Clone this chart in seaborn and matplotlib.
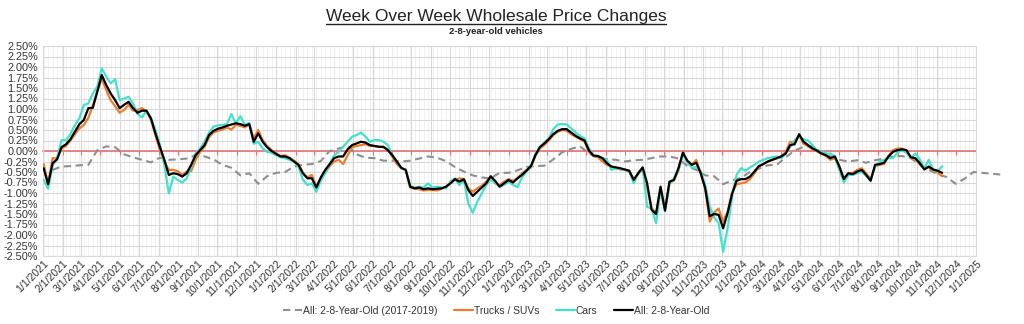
import numpy as np
import pandas as pd
import matplotlib
matplotlib.use("Agg")
import matplotlib.pyplot as plt
import matplotlib.dates as mdates
from matplotlib.lines import Line2D
from matplotlib.ticker import MultipleLocator, FuncFormatter
import seaborn as sns

# ---------------- data ----------------
title_text = "Week Over Week Wholesale Price Changes"
subtitle_text = "2-8-year-old vehicles"
legend_labels = ["All: 2-8-Year-Old (2017-2019)", "Trucks / SUVs", "Cars", "All: 2-8-Year-Old"]

weekly_start = "2021-01-02"      # first weekly observation
baseline_start = "2021-01-16"    # first point of the 2017-2019 baseline (bi-weekly)

all_vals = [
    -0.41, -0.79, -0.29, -0.20, 0.09, 0.16, 0.28, 0.46, 0.64, 0.74,
    1.02, 1.03, 1.41, 1.81, 1.57, 1.37, 1.21, 1.02, 1.10, 1.17,
    1.02, 0.91, 0.96, 0.96, 0.78, 0.42, 0.10, -0.21, -0.57, -0.53,
    -0.55, -0.61, -0.53, -0.33, -0.10, 0.02, 0.14, 0.38, 0.48, 0.53,
    0.56, 0.60, 0.63, 0.66, 0.64, 0.60, 0.64, 0.22, 0.42, 0.22,
    0.09, 0.00, -0.07, -0.13, -0.13, -0.17, -0.25, -0.33, -0.53, -0.65,
    -0.65, -0.87, -0.63, -0.45, -0.31, -0.17, -0.13, -0.13, 0.04, 0.14,
    0.18, 0.22, 0.20, 0.14, 0.12, 0.10, 0.10, 0.02, -0.10, -0.25,
    -0.40, -0.45, -0.85, -0.89, -0.87, -0.91, -0.89, -0.91, -0.90, -0.89,
    -0.85, -0.77, -0.67, -0.73, -0.67, -0.93, -1.07, -0.97, -0.87, -0.77,
    -0.60, -0.71, -0.85, -0.77, -0.69, -0.75, -0.65, -0.57, -0.47, -0.36,
    -0.10, 0.09, 0.18, 0.28, 0.40, 0.48, 0.52, 0.52, 0.44, 0.36,
    0.30, 0.25, 0.01, -0.11, -0.12, -0.17, -0.29, -0.37, -0.39, -0.41,
    -0.44, -0.47, -0.69, -0.53, -0.39, -0.77, -1.40, -1.50, -0.85, -1.42,
    -0.73, -0.69, -0.41, -0.04, -0.23, -0.33, -0.28, -0.53, -0.89, -1.55,
    -1.50, -1.52, -1.84, -1.48, -1.02, -0.71, -0.67, -0.67, -0.61, -0.49,
    -0.36, -0.31, -0.25, -0.21, -0.17, -0.13, -0.06, 0.14, 0.16, 0.40,
    0.22, 0.14, 0.06, 0.01, -0.06, -0.10, -0.17, -0.13, -0.37, -0.67,
    -0.53, -0.55, -0.49, -0.45, -0.57, -0.71, -0.33, -0.31, -0.28, -0.13,
    -0.02, 0.02, 0.04, 0.02, -0.15, -0.17, -0.29, -0.44, -0.37, -0.44,
    -0.47, -0.52,
]

trucks_vals = [
    -0.31, -0.80, -0.17, -0.18, 0.06, 0.12, 0.25, 0.40, 0.54, 0.62,
    0.79, 1.08, 1.43, 1.73, 1.45, 1.21, 1.06, 0.91, 0.98, 1.10,
    0.96, 0.98, 1.02, 0.94, 0.74, 0.38, 0.02, -0.25, -0.45, -0.45,
    -0.48, -0.57, -0.49, -0.48, -0.21, -0.02, 0.10, 0.33, 0.44, 0.48,
    0.51, 0.56, 0.51, 0.62, 0.60, 0.56, 0.64, 0.30, 0.50, 0.26,
    0.12, 0.02, -0.06, -0.12, -0.10, -0.16, -0.23, -0.31, -0.52, -0.63,
    -0.57, -0.85, -0.65, -0.52, -0.36, -0.25, -0.21, -0.31, -0.10, 0.09,
    0.12, 0.14, 0.16, 0.12, 0.12, 0.10, 0.09, 0.04, -0.14, -0.31,
    -0.41, -0.45, -0.87, -0.90, -0.91, -0.94, -0.93, -0.93, -0.94, -0.90,
    -0.85, -0.76, -0.69, -0.65, -0.67, -0.89, -0.97, -0.89, -0.83, -0.73,
    -0.63, -0.77, -0.81, -0.73, -0.67, -0.71, -0.65, -0.53, -0.45, -0.39,
    -0.12, 0.06, 0.14, 0.25, 0.38, 0.46, 0.50, 0.48, 0.40, 0.34,
    0.28, 0.22, -0.02, -0.12, -0.15, -0.25, -0.33, -0.37, -0.41, -0.44,
    -0.45, -0.49, -0.67, -0.55, -0.41, -0.85, -1.36, -1.48, -0.87, -1.38,
    -0.77, -0.69, -0.47, -0.06, -0.25, -0.33, -0.21, -0.53, -0.89, -1.68,
    -1.46, -1.37, -1.68, -1.45, -1.00, -0.79, -0.77, -0.75, -0.67, -0.53,
    -0.37, -0.31, -0.25, -0.21, -0.17, -0.13, -0.02, 0.22, 0.20, 0.38,
    0.17, 0.12, 0.04, -0.01, -0.06, -0.12, -0.21, -0.17, -0.36, -0.65,
    -0.53, -0.52, -0.45, -0.41, -0.53, -0.67, -0.36, -0.33, -0.31, -0.12,
    0.02, 0.06, 0.06, 0.01, -0.17, -0.21, -0.31, -0.41, -0.39, -0.47,
    -0.52, -0.60,
]

cars_vals = [
    -0.69, -0.90, -0.35, -0.17, 0.26, 0.26, 0.40, 0.62, 0.78, 1.10,
    1.13, 1.37, 1.53, 1.97, 1.77, 1.61, 1.71, 1.21, 1.25, 1.29,
    1.13, 0.88, 0.80, 0.96, 0.78, 0.50, 0.14, -0.33, -1.01, -0.61,
    -0.69, -0.75, -0.65, -0.37, -0.06, 0.06, 0.22, 0.44, 0.58, 0.61,
    0.62, 0.64, 0.88, 0.65, 0.83, 0.62, 0.67, 0.17, 0.22, 0.06,
    -0.02, -0.04, -0.10, -0.15, -0.17, -0.21, -0.25, -0.37, -0.69, -0.81,
    -0.77, -0.97, -0.71, -0.52, -0.31, -0.10, -0.02, 0.10, 0.22, 0.34,
    0.38, 0.44, 0.34, 0.22, 0.26, 0.26, 0.22, 0.14, -0.10, -0.25,
    -0.41, -0.45, -0.83, -0.87, -0.85, -0.87, -0.77, -0.87, -0.85, -0.87,
    -0.89, -0.73, -0.65, -0.81, -0.69, -1.25, -1.47, -1.21, -1.01, -0.81,
    -0.69, -0.75, -0.85, -0.81, -0.73, -0.81, -0.86, -0.63, -0.49, -0.39,
    -0.07, 0.09, 0.20, 0.30, 0.52, 0.63, 0.64, 0.63, 0.54, 0.44,
    0.36, 0.30, 0.06, -0.10, -0.12, -0.17, -0.21, -0.45, -0.41, -0.43,
    -0.45, -0.47, -0.77, -0.52, -0.41, -1.33, -1.37, -1.72, -0.93, -1.42,
    -0.79, -0.65, -0.45, -0.06, -0.29, -0.39, -0.39, -0.49, -0.81, -1.33,
    -1.58, -1.72, -2.40, -1.84, -1.09, -0.57, -0.41, -0.47, -0.39, -0.33,
    -0.25, -0.21, -0.17, -0.15, -0.13, -0.17, -0.06, 0.10, 0.26, 0.34,
    0.28, 0.25, 0.14, 0.01, -0.02, -0.06, -0.06, -0.13, -0.45, -0.75,
    -0.57, -0.57, -0.53, -0.49, -0.60, -0.67, -0.37, -0.25, -0.21, -0.17,
    -0.17, -0.04, 0.02, -0.04, -0.17, -0.06, -0.20, -0.41, -0.21, -0.45,
    -0.49, -0.36,
]

baseline_vals = [
    -0.45, -0.37, -0.36, -0.34, -0.33, 0.02, 0.11, 0.09, -0.08, -0.15,
    -0.21, -0.27, -0.16, -0.21, -0.20, -0.18, -0.10, -0.13, -0.20, -0.33,
    -0.40, -0.58, -0.53, -0.78, -0.60, -0.52, -0.50, -0.37, -0.33, -0.31,
    -0.24, 0.00, 0.06, 0.12, -0.08, -0.16, -0.17, -0.23, -0.23, -0.25,
    -0.23, -0.18, -0.13, -0.16, -0.24, -0.38, -0.49, -0.58, -0.63, -0.65,
    -0.52, -0.52, -0.46, -0.38, -0.36, -0.35, -0.20, -0.03, 0.05, 0.11,
    -0.06, -0.17, -0.19, -0.21, -0.25, -0.22, -0.21, -0.17, -0.13, -0.13,
    -0.18, -0.36, -0.45, -0.58, -0.60, -0.79, -0.70, -0.64, -0.50, -0.42,
    -0.34, -0.33, -0.15, 0.01, 0.10, 0.11, -0.03, -0.13, -0.21, -0.25,
    -0.22, -0.28, -0.22, -0.18, -0.13, -0.12, -0.17, -0.33, -0.45, -0.55,
    -0.62, -0.78, -0.66, -0.50, -0.52, -0.54, -0.56,
]

axis_start = "2021-01-01"
axis_end = "2025-01-01"

# ---------------- styling ----------------
sns.set_theme(style="white")
plt.rcParams['font.family'] = ['Liberation Sans', 'DejaVu Sans']

c_base = "#8F8F8F"
c_trucks = "#ED7D31"
c_cars = "#45E0CC"
c_all = "#000000"
c_zero = "#E57373"
c_text = "#333333"
c_grid = "#D9D9D9"
c_minor = "#EFEFEF"

weeks = pd.date_range(weekly_start, periods=len(all_vals), freq="7D")
df = pd.DataFrame({"date": weeks, "all": all_vals, "trucks": trucks_vals, "cars": cars_vals})
base = pd.DataFrame({"date": pd.date_range(baseline_start, periods=len(baseline_vals), freq="14D"),
                     "val": baseline_vals})

W, H = 1024, 324
fig = plt.figure(figsize=(W / 100, H / 100), dpi=100)
ax = fig.add_axes([43 / W, 1 - 256 / H, (976 - 43) / W, (256 - 46) / H])

sns.lineplot(data=base, x="date", y="val", ax=ax, color=c_base, lw=1.5,
             linestyle=(0, (3.5, 2.2)), label=legend_labels[0], zorder=3)
ax.lines[-1].set_clip_on(False)
sns.lineplot(data=df, x="date", y="trucks", ax=ax, color=c_trucks, lw=1.6,
             label=legend_labels[1], zorder=4)
sns.lineplot(data=df, x="date", y="cars", ax=ax, color=c_cars, lw=1.6,
             label=legend_labels[2], zorder=5)
sns.lineplot(data=df, x="date", y="all", ax=ax, color=c_all, lw=1.6,
             label=legend_labels[3], zorder=6)

handles, labels = ax.get_legend_handles_labels()
ax.get_legend().remove()

ax.set_xlim(pd.Timestamp(axis_start), pd.Timestamp(axis_end))
ax.set_ylim(-2.5, 2.5)
ax.set_xlabel("")
ax.set_ylabel("")

ax.yaxis.set_major_locator(MultipleLocator(0.25))
ax.yaxis.set_major_formatter(FuncFormatter(lambda v, p: f"{v:.2f}%"))
ax.xaxis.set_major_locator(mdates.MonthLocator())
ax.xaxis.set_major_formatter(FuncFormatter(
    lambda v, p: (lambda d: f"{d.month}/{d.day}/{d.year}")(mdates.num2date(v))))
ax.xaxis.set_minor_locator(mdates.WeekdayLocator(byweekday=mdates.SA))

ax.set_axisbelow(True)
ax.grid(which="major", axis="both", color=c_grid, lw=0.8)
ax.grid(which="minor", axis="x", color=c_minor, lw=0.6)
ax.tick_params(axis="y", which="both", length=0, colors=c_text, labelsize=7.8, pad=3.5)
ax.tick_params(axis="x", which="both", length=0, colors=c_text, labelsize=7.6, pad=2)
for lab in ax.get_xticklabels():
    lab.set_rotation(45)
    lab.set_ha("right")
    lab.set_rotation_mode("anchor")
for sp in ax.spines.values():
    sp.set_color(c_grid)
    sp.set_linewidth(0.8)

# zero line with small month ticks
sec = ax.secondary_xaxis(0.5)
sec.xaxis.set_major_locator(mdates.MonthLocator())
sec.tick_params(axis="x", direction="in", length=3, width=0.8, color=c_zero,
                labeltop=False, labelbottom=False)
for sp in sec.spines.values():
    sp.set_color(c_zero)
    sp.set_linewidth(1.2)
sec.set_zorder(1)

# titles
t = fig.text(496 / W, 1 - 21 / H, title_text, ha="center", va="baseline",
             fontsize=12.5, color="#222222")
fig.text(496 / W, 1 - 31 / H, subtitle_text, ha="center", va="center",
         fontsize=6.8, color="#222222", fontweight="bold")
fig.canvas.draw()
bb = t.get_window_extent().transformed(fig.transFigure.inverted())
fig.add_artist(Line2D([bb.x0, bb.x1], [1 - 23.5 / H] * 2, color="#222222",
                      lw=1.0, transform=fig.transFigure))

fig.legend(handles, labels, loc="center", bbox_to_anchor=(496 / W, 1 - 311 / H),
           ncol=4, frameon=False, fontsize=7.4, handlelength=1.9, handletextpad=0.05,
           columnspacing=1.6, labelcolor=c_text)

fig.savefig("out.png", dpi=100)
